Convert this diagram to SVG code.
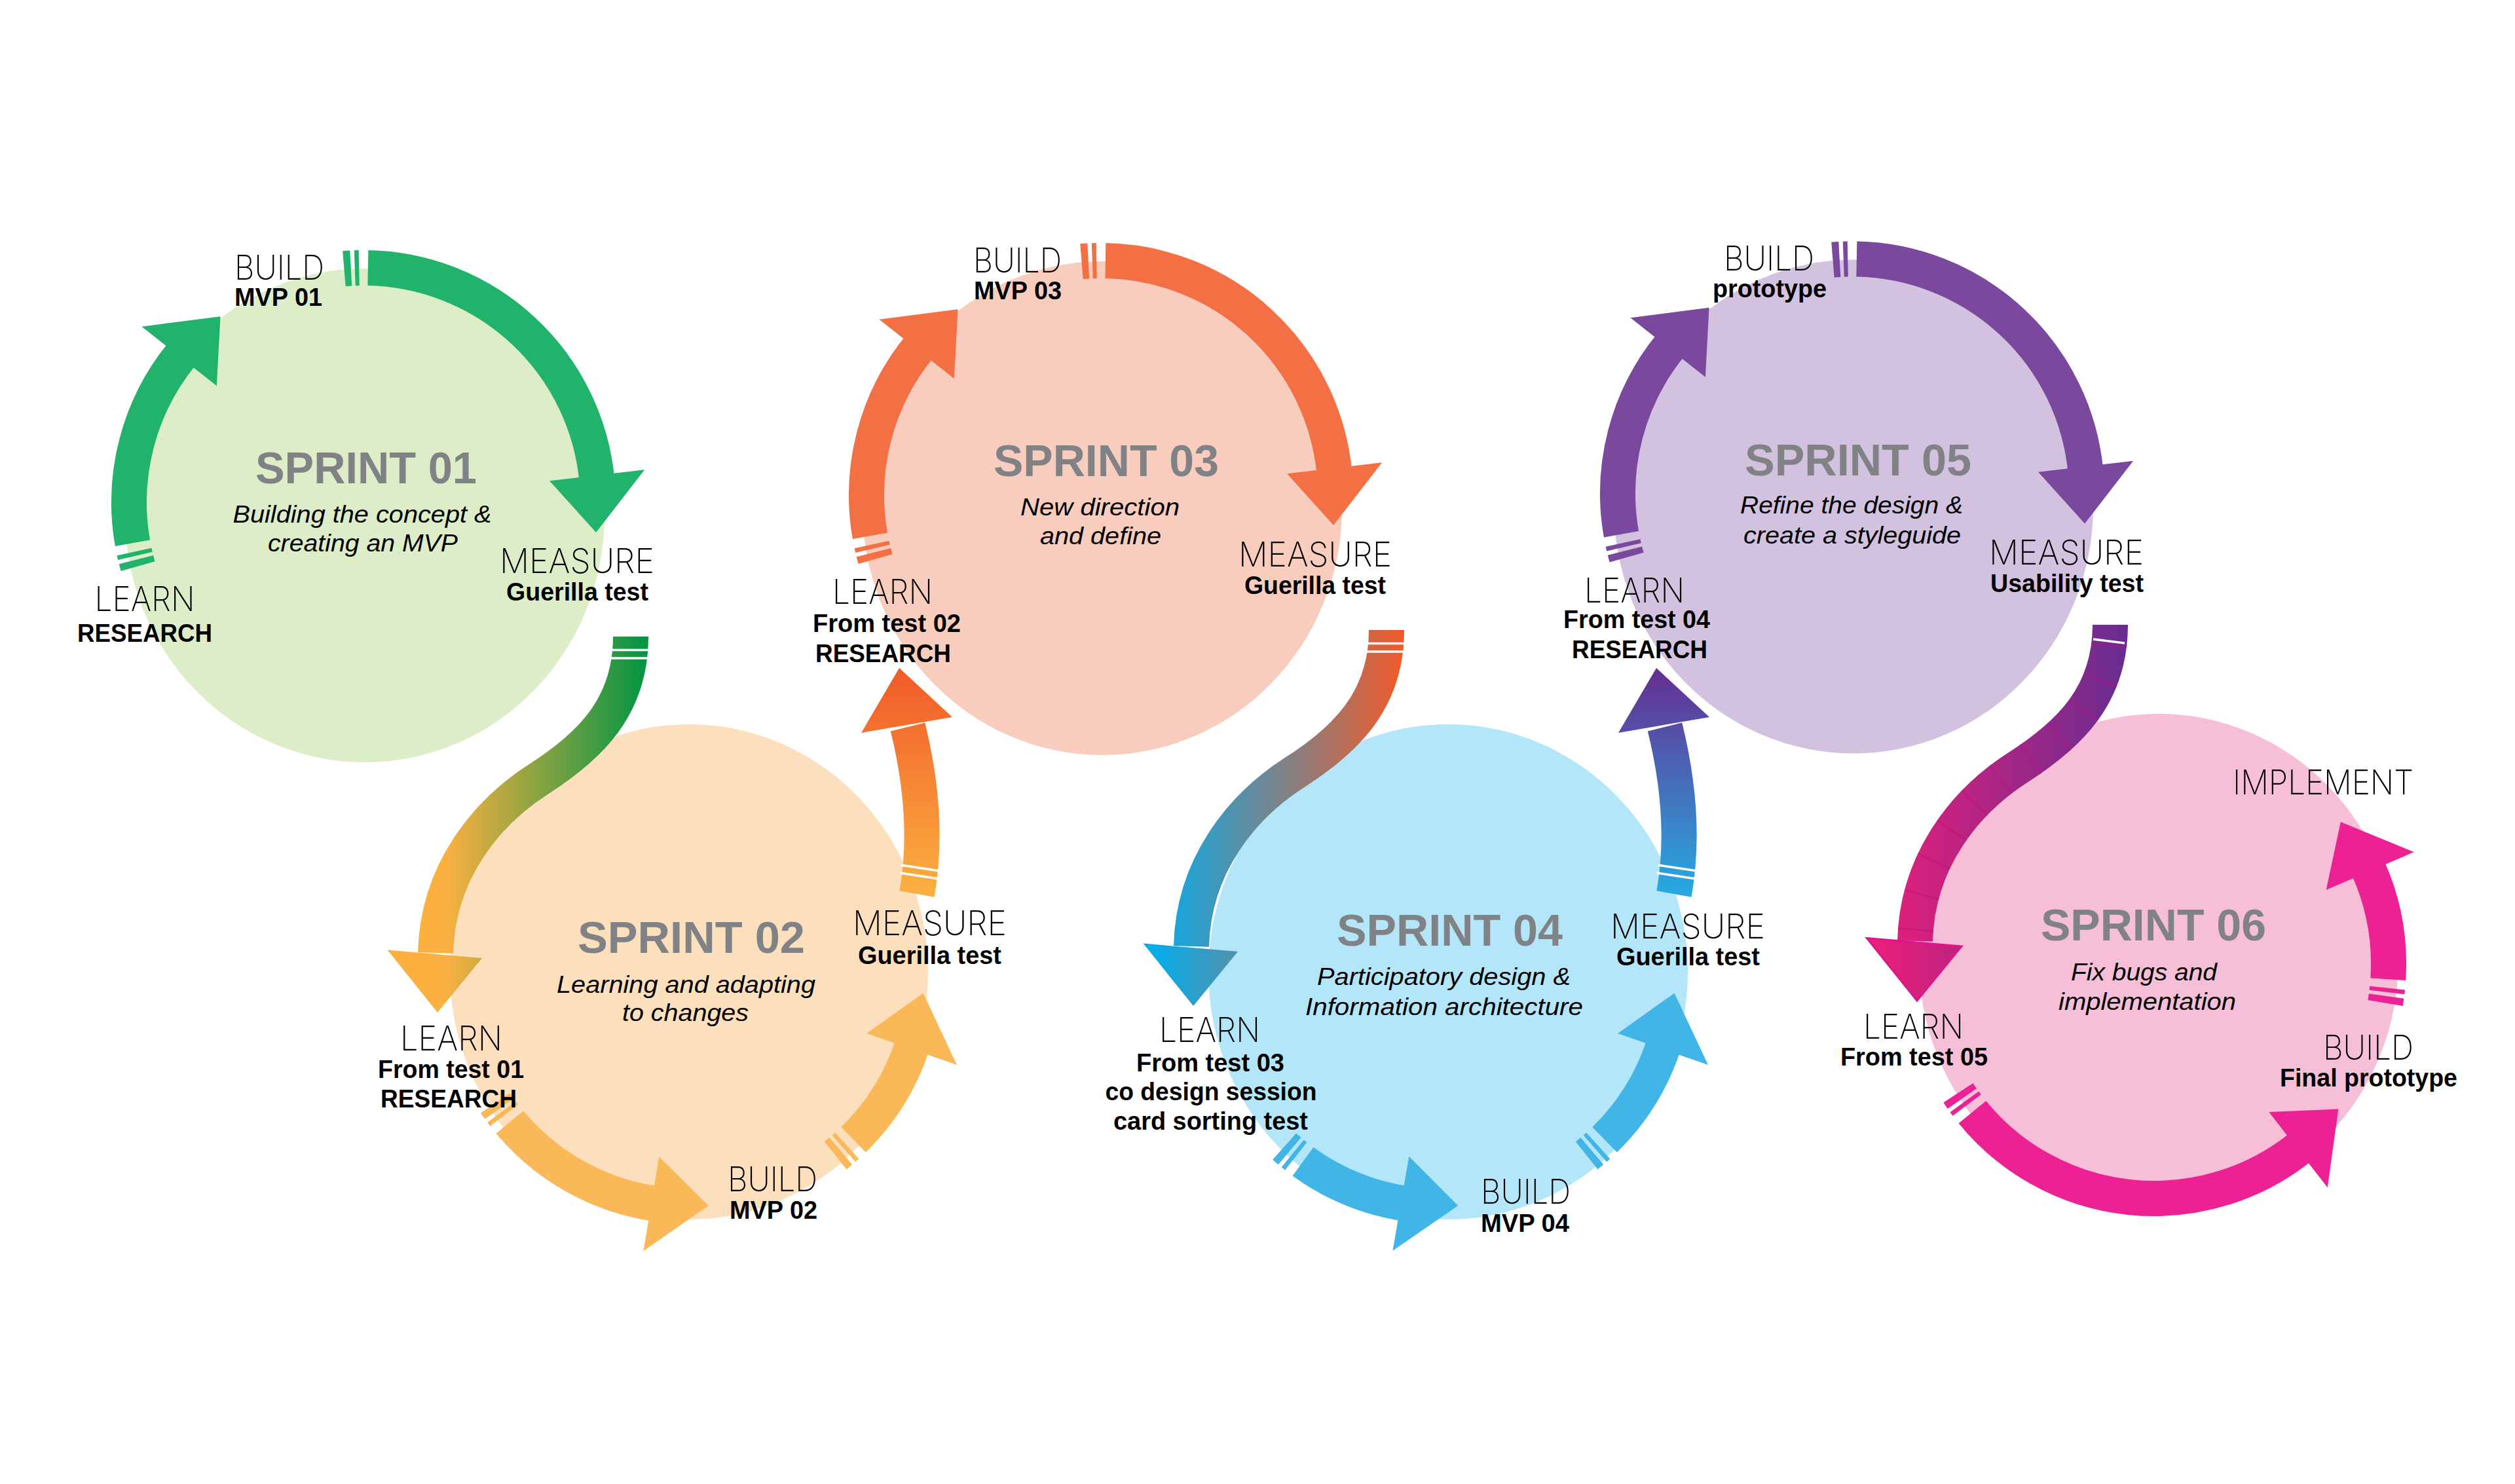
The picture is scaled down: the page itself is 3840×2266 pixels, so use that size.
<svg xmlns="http://www.w3.org/2000/svg" width="3840" height="2266" viewBox="0 0 3840 2266">
<style>
.ring{fill:none;stroke-width:54}
.lbl{font-family:Inter,Roboto,Lato,"Liberation Sans",sans-serif;font-weight:200;font-size:52px;fill:#000;text-anchor:middle}
.sub{font-family:"Liberation Sans",Arial,sans-serif;font-weight:bold;font-size:38px;fill:#000;text-anchor:middle}
.ttl{font-family:"Liberation Sans",Arial,sans-serif;font-weight:bold;font-size:69px;fill:#808285;text-anchor:middle}
.dsc{font-family:"Liberation Sans",Arial,sans-serif;font-style:italic;font-size:37px;fill:#000;text-anchor:middle}
.tick{stroke:#fff;stroke-width:3.5}
</style>
<defs>
<path id="hcw" d="M286 0 L432 0 L347.4 86.6 Z"/>
<path id="hccw" d="M286 0 L432 0 L347.4 -86.6 Z"/>
<linearGradient id="g12" gradientUnits="userSpaceOnUse" x1="680" y1="0" x2="990" y2="0"><stop offset="0" stop-color="#fbb040"/><stop offset="1" stop-color="#009444"/></linearGradient>
<linearGradient id="g34" gradientUnits="userSpaceOnUse" x1="600" y1="0" x2="990" y2="0"><stop offset="0" stop-color="#00aeef"/><stop offset="1" stop-color="#f15a29"/></linearGradient>
<linearGradient id="g56" gradientUnits="userSpaceOnUse" x1="600" y1="0" x2="990" y2="0"><stop offset="0" stop-color="#ec1e79"/><stop offset="1" stop-color="#662d91"/></linearGradient>
<linearGradient id="g23" gradientUnits="userSpaceOnUse" x1="0" y1="1365" x2="0" y2="1020"><stop offset="0" stop-color="#fbb040"/><stop offset="1" stop-color="#f15a29"/></linearGradient>
<linearGradient id="g45" gradientUnits="userSpaceOnUse" x1="0" y1="1365" x2="0" y2="1020"><stop offset="0" stop-color="#27aae1"/><stop offset="1" stop-color="#662d91"/></linearGradient>
</defs>
<rect width="3840" height="2266" fill="#fff"/>

<g id="sprint-01">
<ellipse cx="557" cy="787" rx="366" ry="377" fill="#ddedc8"/>
<g transform="translate(555 767)" stroke="#21b26b" fill="#21b26b">
<circle class="ring" r="358" stroke-dasharray="10.5 6 6.5 13.5 520.5 5000" transform="rotate(-94.74)"/>
<circle class="ring" r="358" stroke-dasharray="10.5 6 6.5 13.5 308.7 5000" transform="rotate(164.16)"/>
<use href="#hcw" transform="rotate(-6.6)" stroke="none"/>
<use href="#hcw" transform="rotate(218.4)" stroke="none"/>
</g>
<text class="lbl" x="426.5" y="426.5" textLength="137" lengthAdjust="spacingAndGlyphs">BUILD</text>
<text class="sub" x="425" y="467" textLength="134" lengthAdjust="spacingAndGlyphs">MVP 01</text>
<text class="ttl" x="559" y="738" textLength="338" lengthAdjust="spacingAndGlyphs">SPRINT 01</text>
<text class="dsc" x="553" y="798" textLength="395" lengthAdjust="spacingAndGlyphs">Building the concept &amp;</text>
<text class="dsc" x="554" y="842" textLength="290" lengthAdjust="spacingAndGlyphs">creating an MVP</text>
<text class="lbl" x="881" y="874.5" textLength="236" lengthAdjust="spacingAndGlyphs">MEASURE</text>
<text class="sub" x="881.5" y="917" textLength="217" lengthAdjust="spacingAndGlyphs">Guerilla test</text>
<text class="lbl" x="221" y="932.6" textLength="153" lengthAdjust="spacingAndGlyphs">LEARN</text>
<text class="sub" x="221" y="980" textLength="206" lengthAdjust="spacingAndGlyphs">RESEARCH</text>
</g>

<g id="sprint-02">
<ellipse cx="1052" cy="1484" rx="365" ry="378" fill="#fcdfbc"/>
<g transform="translate(1053 1484)" stroke="#fbb858" fill="#fbb858">
<circle class="ring" r="358" stroke-dasharray="260.6 13.5 6.5 6 10.5 5000" transform="rotate(98.4)"/>
<circle class="ring" r="358" stroke-dasharray="171.8 13.5 6.5 6 10.5 5000" transform="rotate(18.2)"/>
<use href="#hccw" transform="rotate(99.4)" stroke="none"/>
<use href="#hccw" transform="rotate(19.2)" stroke="none"/>
</g>
<text class="ttl" x="1055.5" y="1455" textLength="347" lengthAdjust="spacingAndGlyphs">SPRINT 02</text>
<text class="dsc" x="1047.5" y="1516" textLength="395" lengthAdjust="spacingAndGlyphs">Learning and adapting</text>
<text class="dsc" x="1046.5" y="1559" textLength="193" lengthAdjust="spacingAndGlyphs">to changes</text>
<text class="lbl" x="1419.5" y="1428" textLength="235" lengthAdjust="spacingAndGlyphs">MEASURE</text>
<text class="sub" x="1419.5" y="1472" textLength="219" lengthAdjust="spacingAndGlyphs">Guerilla test</text>
<text class="lbl" x="689" y="1604" textLength="156" lengthAdjust="spacingAndGlyphs">LEARN</text>
<text class="sub" x="688.5" y="1646" textLength="223" lengthAdjust="spacingAndGlyphs">From test 01</text>
<text class="sub" x="685" y="1691" textLength="208" lengthAdjust="spacingAndGlyphs">RESEARCH</text>
<text class="lbl" x="1179.5" y="1819" textLength="137" lengthAdjust="spacingAndGlyphs">BUILD</text>
<text class="sub" x="1181" y="1861" textLength="134" lengthAdjust="spacingAndGlyphs">MVP 02</text>
</g>

<g id="sprint-03">
<ellipse cx="1683" cy="776" rx="366" ry="377" fill="#f9cdbe"/>
<g transform="translate(1681 756)" stroke="#f37045" fill="#f37045">
<circle class="ring" r="358" stroke-dasharray="10.5 6 6.5 13.5 520.5 5000" transform="rotate(-94.74)"/>
<circle class="ring" r="358" stroke-dasharray="10.5 6 6.5 13.5 308.7 5000" transform="rotate(164.16)"/>
<use href="#hcw" transform="rotate(-6.6)" stroke="none"/>
<use href="#hcw" transform="rotate(218.4)" stroke="none"/>
</g>
<text class="lbl" x="1553.5" y="416" textLength="135" lengthAdjust="spacingAndGlyphs">BUILD</text>
<text class="sub" x="1554" y="457" textLength="134" lengthAdjust="spacingAndGlyphs">MVP 03</text>
<text class="ttl" x="1689" y="727" textLength="344" lengthAdjust="spacingAndGlyphs">SPRINT 03</text>
<text class="dsc" x="1679.5" y="787" textLength="243" lengthAdjust="spacingAndGlyphs">New direction</text>
<text class="dsc" x="1680.5" y="831" textLength="185" lengthAdjust="spacingAndGlyphs">and define</text>
<text class="lbl" x="2008" y="865" textLength="234" lengthAdjust="spacingAndGlyphs">MEASURE</text>
<text class="sub" x="2008" y="907" textLength="216" lengthAdjust="spacingAndGlyphs">Guerilla test</text>
<text class="lbl" x="1347.5" y="922" textLength="153" lengthAdjust="spacingAndGlyphs">LEARN</text>
<text class="sub" x="1354" y="965" textLength="226" lengthAdjust="spacingAndGlyphs">From test 02</text>
<text class="sub" x="1348.5" y="1011" textLength="207" lengthAdjust="spacingAndGlyphs">RESEARCH</text>
</g>

<g id="sprint-04">
<ellipse cx="2211" cy="1484" rx="366" ry="378" fill="#b3e6f9"/>
<g transform="translate(2200 1484)" stroke="#41b5e5" fill="#41b5e5">
<circle class="ring" r="358" stroke-dasharray="170 13.5 6.5 6 10.5 5000" transform="rotate(98.8)"/>
<circle class="ring" r="358" stroke-dasharray="171.8 13.5 6.5 6 10.5 5000" transform="rotate(18.2)"/>
<use href="#hccw" transform="rotate(99.8)" stroke="none"/>
<use href="#hccw" transform="rotate(19.2)" stroke="none"/>
</g>
<text class="ttl" x="2213.5" y="1444" textLength="345" lengthAdjust="spacingAndGlyphs">SPRINT 04</text>
<text class="dsc" x="2204.5" y="1503.5" textLength="387" lengthAdjust="spacingAndGlyphs">Participatory design &amp;</text>
<text class="dsc" x="2205" y="1549.5" textLength="424" lengthAdjust="spacingAndGlyphs">Information architecture</text>
<text class="lbl" x="2577" y="1433" textLength="236" lengthAdjust="spacingAndGlyphs">MEASURE</text>
<text class="sub" x="2577.5" y="1474" textLength="219" lengthAdjust="spacingAndGlyphs">Guerilla test</text>
<text class="lbl" x="1847" y="1591" textLength="154" lengthAdjust="spacingAndGlyphs">LEARN</text>
<text class="sub" x="1848" y="1635.6" textLength="226" lengthAdjust="spacingAndGlyphs">From test 03</text>
<text class="sub" x="1849" y="1680" textLength="323" lengthAdjust="spacingAndGlyphs">co design session</text>
<text class="sub" x="1848.5" y="1725" textLength="297" lengthAdjust="spacingAndGlyphs">card sorting test</text>
<text class="lbl" x="2329.5" y="1838" textLength="137" lengthAdjust="spacingAndGlyphs">BUILD</text>
<text class="sub" x="2328.5" y="1881" textLength="135" lengthAdjust="spacingAndGlyphs">MVP 04</text>
</g>

<g id="sprint-05">
<ellipse cx="2830" cy="773.5" rx="366" ry="377" fill="#d2c1df"/>
<g transform="translate(2828 753.5)" stroke="#7a489d" fill="#7a489d">
<circle class="ring" r="358" stroke-dasharray="10.5 6 6.5 13.5 520.5 5000" transform="rotate(-94.74)"/>
<circle class="ring" r="358" stroke-dasharray="10.5 6 6.5 13.5 308.7 5000" transform="rotate(164.16)"/>
<use href="#hcw" transform="rotate(-6.6)" stroke="none"/>
<use href="#hcw" transform="rotate(218.4)" stroke="none"/>
</g>
<text class="lbl" x="2701" y="413" textLength="138" lengthAdjust="spacingAndGlyphs">BUILD</text>
<text class="sub" x="2702" y="454" textLength="174" lengthAdjust="spacingAndGlyphs">prototype</text>
<text class="ttl" x="2837" y="726" textLength="346" lengthAdjust="spacingAndGlyphs">SPRINT 05</text>
<text class="dsc" x="2827" y="784" textLength="340" lengthAdjust="spacingAndGlyphs">Refine the design &amp;</text>
<text class="dsc" x="2828" y="830" textLength="332" lengthAdjust="spacingAndGlyphs">create a styleguide</text>
<text class="lbl" x="3155" y="862" textLength="236" lengthAdjust="spacingAndGlyphs">MEASURE</text>
<text class="sub" x="3156" y="904" textLength="234" lengthAdjust="spacingAndGlyphs">Usability test</text>
<text class="lbl" x="2495.5" y="919.5" textLength="153" lengthAdjust="spacingAndGlyphs">LEARN</text>
<text class="sub" x="2499" y="959" textLength="224" lengthAdjust="spacingAndGlyphs">From test 04</text>
<text class="sub" x="2503.5" y="1005" textLength="207" lengthAdjust="spacingAndGlyphs">RESEARCH</text>
</g>

<g id="sprint-06">
<ellipse cx="3296" cy="1467" rx="366" ry="377" fill="#f7bed8"/>
<g transform="translate(3289 1472)" stroke="#ec2194" fill="#ec2194">
<circle class="ring" r="358" stroke-dasharray="559.8 13.5 6.5 6 10.5 5000" transform="rotate(51.2)"/>
<circle class="ring" r="358" stroke-dasharray="175 13.5 6.5 6 10.5 5000" transform="rotate(-24.3)"/>
<use href="#hccw" transform="rotate(52.2)" stroke="none"/>
<use href="#hccw" transform="rotate(-23.3)" stroke="none"/>
</g>
<text class="ttl" x="3288" y="1436" textLength="344" lengthAdjust="spacingAndGlyphs">SPRINT 06</text>
<text class="dsc" x="3273.5" y="1496.6" textLength="223" lengthAdjust="spacingAndGlyphs">Fix bugs and</text>
<text class="dsc" x="3278.5" y="1542" textLength="271" lengthAdjust="spacingAndGlyphs">implementation</text>
<text class="lbl" x="3547" y="1213" textLength="276" lengthAdjust="spacingAndGlyphs">IMPLEMENT</text>
<text class="lbl" x="3616" y="1618" textLength="138" lengthAdjust="spacingAndGlyphs">BUILD</text>
<text class="sub" x="3616.5" y="1659" textLength="271" lengthAdjust="spacingAndGlyphs">Final prototype</text>
<text class="lbl" x="2921.5" y="1586" textLength="153" lengthAdjust="spacingAndGlyphs">LEARN</text>
<text class="sub" x="2922.5" y="1627" textLength="225" lengthAdjust="spacingAndGlyphs">From test 05</text>
</g>

<g id="connectors">
<g id="c12">
<path d="M963 972 C963 1080 900 1140 822 1190 C744 1240 668 1330 665 1455" fill="none" stroke="url(#g12)" stroke-width="54"/>
<polygon points="591.5,1450.6 736,1463 668,1546" fill="url(#g12)"/>
<line class="tick" x1="930" y1="992.5" x2="996" y2="992.5"/>
<line class="tick" x1="930" y1="1005" x2="996" y2="1005"/>
</g>
<g id="c34" transform="translate(1154 -10)">
<path d="M963 972 C963 1080 900 1140 822 1190 C744 1240 668 1330 665 1455" fill="none" stroke="url(#g34)" stroke-width="54"/>
<polygon points="591.5,1450.6 736,1463 668,1546" fill="url(#g34)"/>
<line class="tick" x1="930" y1="992.5" x2="996" y2="992.5"/>
<line class="tick" x1="930" y1="1005" x2="996" y2="1005"/>
</g>
<g id="c56" transform="translate(2259 -18)">
<path d="M963 972 C963 1080 900 1140 822 1190 C744 1240 668 1330 665 1455" fill="none" stroke="url(#g56)" stroke-width="54"/>
<path d="M963 972 C963 1080 900 1140 822 1190 C744 1240 668 1330 665 1455" fill="none" stroke="#c0107a" stroke-opacity="0.5" stroke-width="54" stroke-dasharray="2.5 52" stroke-dashoffset="-30"/>
<polygon points="591.5,1450.6 736,1463 668,1546" fill="url(#g56)" stroke="#e0138c" stroke-width="3"/>
<line class="tick" stroke-width="3" x1="937" y1="994" x2="985" y2="1000"/>
</g>
<g id="c23">
<path d="M1400 1365 C1415 1280 1407 1195 1386 1110" fill="none" stroke="url(#g23)" stroke-width="54"/>
<polygon points="1315,1119 1454,1095 1373,1020" fill="url(#g23)"/>
<line class="tick" x1="1374" y1="1333" x2="1434" y2="1342"/>
<line class="tick" x1="1376" y1="1321" x2="1436" y2="1330"/>
</g>
<g id="c45" transform="translate(1156 0)">
<path d="M1400 1365 C1415 1280 1407 1195 1386 1110" fill="none" stroke="url(#g45)" stroke-width="54"/>
<polygon points="1315,1119 1454,1095 1373,1020" fill="url(#g45)"/>
<line class="tick" x1="1374" y1="1333" x2="1434" y2="1342"/>
<line class="tick" x1="1376" y1="1321" x2="1436" y2="1330"/>
</g>
</g>
</svg>
